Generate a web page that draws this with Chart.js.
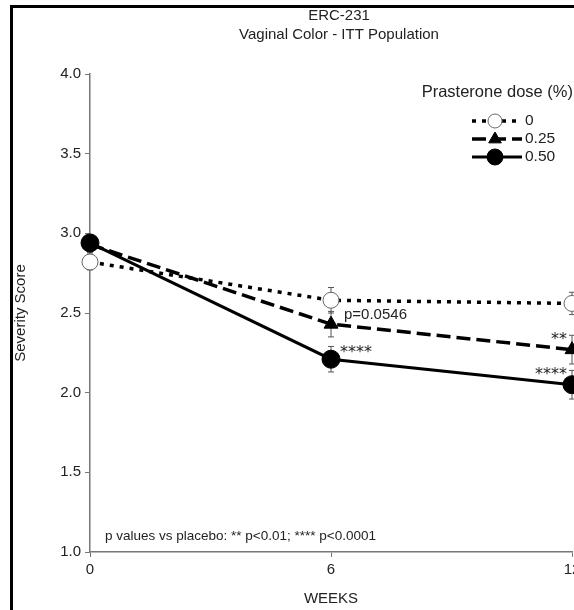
<!DOCTYPE html>
<html>
<head>
<meta charset="utf-8">
<script src="https://cdn.jsdelivr.net/npm/chart.js@4.4.1/dist/chart.umd.min.js"></script>
<style>
  body { margin: 0; overflow: hidden; background: #fff; }
  #wrap { position: absolute; left: 0; top: 0; width: 640px; height: 610px; }
  #frame { position: absolute; left: 10px; top: 5px; width: 700px; height: 700px;
           border-left: 3px solid #000; border-top: 3px solid #000; pointer-events: none; }
</style>
</head>
<body>
<div id="wrap"><canvas id="chart"></canvas></div>
<div id="frame"></div>
<script>
// weeks on study and mean severity score per dose group
const weeks = [0, 6, 12];
const doseLabels = ['0', '0.25', '0.50'];
const placebo = [2.82, 2.58, 2.56];
const dose025 = [2.93, 2.43, 2.27];
const dose050 = [2.94, 2.21, 2.05];
// standard errors
const placeboErr = [0.05, 0.08, 0.07];
const dose025Err = [0.05, 0.08, 0.09];
const dose050Err = [0.05, 0.08, 0.09];
// significance marks: [dataset, point index, text, side]
const pMarks = [
  [1, 1, 'p=0.0546', 'right'],
  [2, 1, '****', 'right'],
  [1, 2, '**', 'left'],
  [2, 2, '****', 'left']
];
const titleLines = ['ERC-231', 'Vaginal Color - ITT Population'];
const footnote = 'p values vs placebo: ** p<0.01; **** p<0.0001';

const FONT = '"Liberation Sans", Arial, sans-serif';
const STAR_FONT = '"DejaVu Sans", sans-serif';
const INK = '#222';

function pts(ys) {
  return weeks.map((w, i) => ({ x: w, y: ys[i] }));
}

// vertical error bars with caps
const errorBars = {
  id: 'errorBars',
  beforeDatasetsDraw(chart) {
    const { ctx, scales: { x, y } } = chart;
    ctx.save();
    ctx.strokeStyle = '#555';
    ctx.lineWidth = 1;
    chart.data.datasets.forEach(ds => {
      ds.data.forEach((p, i) => {
        const e = ds.errors[i];
        const px = x.getPixelForValue(p.x);
        const top = y.getPixelForValue(p.y + e);
        const bot = y.getPixelForValue(p.y - e);
        ctx.beginPath();
        ctx.moveTo(px, top); ctx.lineTo(px, bot);
        ctx.moveTo(px - 3, top); ctx.lineTo(px + 3, top);
        ctx.moveTo(px - 3, bot); ctx.lineTo(px + 3, bot);
        ctx.stroke();
      });
    });
    ctx.restore();
  }
};

function marker(ctx, ds, cx, cy, r) {
  ctx.save();
  ctx.fillStyle = ds.pointBackgroundColor;
  ctx.strokeStyle = ds.pointBorderColor;
  ctx.lineWidth = ds.pointBorderWidth;
  ctx.beginPath();
  if (ds.pointStyle === 'triangle') {
    ctx.moveTo(cx, cy - r); ctx.lineTo(cx + r * 0.9, cy + r * 0.55); ctx.lineTo(cx - r * 0.9, cy + r * 0.55);
    ctx.closePath();
  } else {
    ctx.arc(cx, cy, r, 0, Math.PI * 2);
  }
  ctx.fill(); ctx.stroke();
  ctx.restore();
}

// title, p-value labels, footnote and the legend block
const extras = {
  id: 'extras',
  afterDatasetsDraw(chart) {
    const { ctx, chartArea, scales: { x, y } } = chart;
    ctx.save();
    ctx.fillStyle = INK;
    ctx.textBaseline = 'middle';

    ctx.font = '15px ' + FONT;
    ctx.textAlign = 'center';
    const cx = (chartArea.left + chartArea.right) / 2 + 8;
    titleLines.forEach((t, i) => ctx.fillText(t, cx, 16 + i * 19));

    pMarks.forEach(([d, i, txt, side]) => {
      const p = chart.data.datasets[d].data[i];
      const px = x.getPixelForValue(p.x);
      const py = y.getPixelForValue(p.y);
      const stars = txt.startsWith('*');
      ctx.font = stars ? '16px ' + STAR_FONT : '15px ' + FONT;
      if (side === 'right') {
        ctx.textAlign = 'left';
        ctx.fillText(txt, px + (stars ? 9 : 13), py - (stars ? 6 : 9));
      } else {
        ctx.textAlign = 'right';
        ctx.fillText(txt, px - 5, py - 10);
      }
    });
    ctx.textAlign = 'left';
    ctx.font = '13.5px ' + FONT;
    ctx.fillText(footnote, chartArea.left + 15, chartArea.bottom - 16);

    // legend
    const right = chartArea.right;
    ctx.font = '16.5px ' + FONT;
    ctx.textAlign = 'right';
    ctx.fillText('Prasterone dose (%)', right + 1, chartArea.top + 18);
    ctx.font = '15.5px ' + FONT;
    ctx.textAlign = 'left';
    chart.data.datasets.forEach((ds, k) => {
      const ly = chartArea.top + 47 + k * 18;
      const x0 = right - 100, x1 = right - 50, xm = right - 77;
      ctx.save();
      ctx.strokeStyle = ds.borderColor;
      ctx.lineWidth = ds.borderWidth;
      ctx.setLineDash(ds.borderDash || []);
      ctx.beginPath(); ctx.moveTo(x0, ly); ctx.lineTo(x1, ly); ctx.stroke();
      ctx.restore();
      marker(ctx, ds, xm, ly, ds.pointRadius - 1);
      ctx.fillStyle = INK;
      ctx.fillText(doseLabels[k], x1 + 3, ly);
    });
    ctx.restore();
  }
};

const ctx = document.getElementById('chart').getContext('2d');
new Chart(ctx, {
  type: 'line',
  data: {
    datasets: [
      {
        label: doseLabels[0], data: pts(placebo), errors: placeboErr,
        borderColor: '#000', borderWidth: 3.5, borderDash: [4, 6],
        pointStyle: 'circle', pointRadius: 8, pointBackgroundColor: '#fff',
        pointBorderColor: '#666', pointBorderWidth: 1, clip: false, order: 1
      },
      {
        label: doseLabels[1], data: pts(dose025), errors: dose025Err,
        borderColor: '#000', borderWidth: 3.5, borderDash: [14, 6],
        pointStyle: 'triangle', pointRadius: 8, pointBackgroundColor: '#000',
        pointBorderColor: '#000', pointBorderWidth: 1, clip: false, order: 2
      },
      {
        label: doseLabels[2], data: pts(dose050), errors: dose050Err,
        borderColor: '#000', borderWidth: 3, borderDash: [],
        pointStyle: 'circle', pointRadius: 9, pointBackgroundColor: '#000',
        pointBorderColor: '#000', pointBorderWidth: 1, clip: false, order: 0
      }
    ]
  },
  options: {
    responsive: true,
    maintainAspectRatio: false,
    animation: false,
    layout: { padding: { left: 12, right: 68, top: 74, bottom: 0 } },
    plugins: {
      legend: { display: false },
      tooltip: { enabled: false },
      title: { display: false }
    },
    scales: {
      x: {
        type: 'linear', min: 0, max: 12,
        ticks: { stepSize: 6, color: INK, font: { family: FONT, size: 15 }, padding: 4 },
        grid: { drawOnChartArea: false, tickLength: 5, color: '#777' },
        border: { color: '#777', width: 1.5 },
        title: { display: true, text: 'WEEKS', color: INK, font: { family: FONT, size: 15 }, padding: 2 },
        afterFit(s) { s.height = 58; }
      },
      y: {
        min: 1, max: 4,
        ticks: { stepSize: 0.5, color: INK, font: { family: FONT, size: 15 }, padding: 4,
                 callback: v => v.toFixed(1) },
        grid: { drawOnChartArea: false, tickLength: 5, color: '#777' },
        border: { color: '#777', width: 1.5 },
        title: { display: true, text: 'Severity Score', color: INK, font: { family: FONT, size: 15 }, padding: 0 },
        afterFit(s) { s.width = 78; }
      }
    }
  },
  plugins: [errorBars, extras]
});
</script>
</body>
</html>
